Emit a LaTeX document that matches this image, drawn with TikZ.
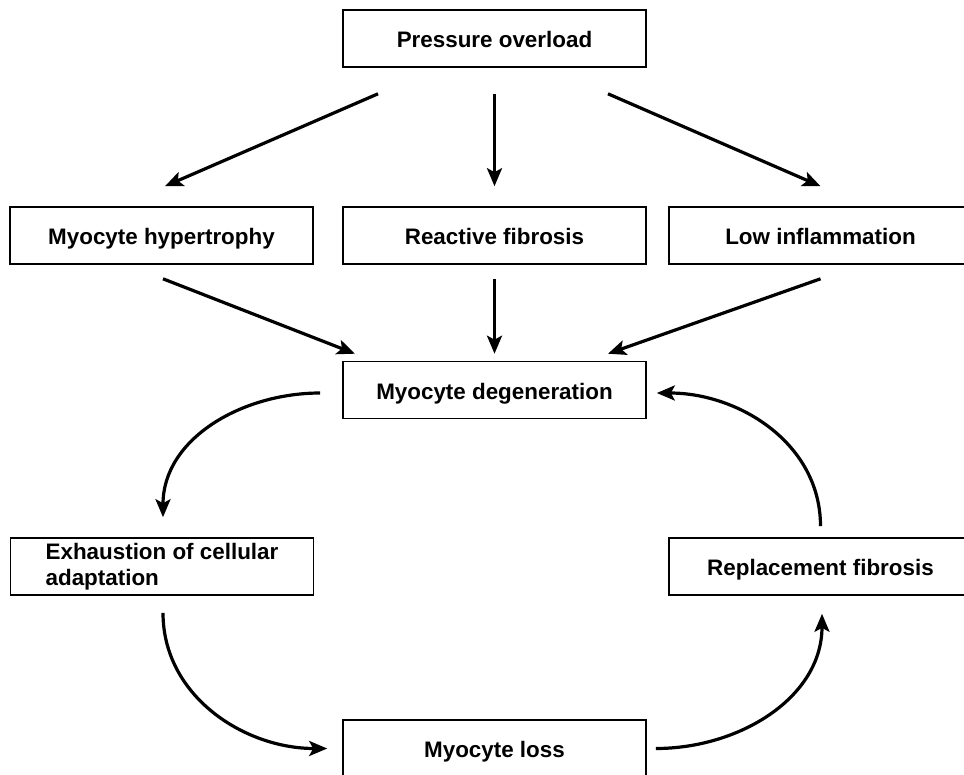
\documentclass[tikz,border=0pt]{standalone}
\usepackage{fontspec}
\setmainfont{Liberation Sans}
\usetikzlibrary{arrows.meta}
\begin{document}
\begin{tikzpicture}[x=1pt, y=-1pt, >={Stealth[length=18pt,width=15pt,inset=4pt]},
    box/.style={draw, line width=1.6pt, minimum width=303pt, minimum height=57pt, inner sep=0pt,
        text height=18pt, text depth=0pt, font=\fontsize{22.4}{26}\selectfont\bfseries},
    flow/.style={->, line width=3.2pt}]
    \useasboundingbox (0,0) rectangle (964,774);
    % boxes
    \node[box] (po) at (494.5,38.5) {Pressure overload};
    \node[box] (mh) at (161.5,235.5) {Myocyte hypertrophy};
    \node[box] (rf) at (494.5,235.5) {Reactive fibrosis};
    \node[box] (li) at (820.5,235.5) {Low inflammation};
    \node[box] (md) at (494.5,390) {Myocyte degeneration};
    \node[box, text height={}, text depth={}, align=left] (ex) at (162,566.5) {Exhaustion of cellular\\adaptation};
    \node[box] (rp) at (820.5,566.5) {Replacement fibrosis};
    \node[box] (ml) at (494.5,748.5) {Myocyte loss};
    % straight arrows
    \draw[flow] ([xshift=-116.5pt,yshift=-26pt]po.south) -- ([xshift=3.5pt,yshift=20pt]mh.north);
    \draw[flow] ([yshift=-26pt]po.south) -- ([yshift=20pt]rf.north);
    \draw[flow] ([xshift=113.5pt,yshift=-26pt]po.south) -- ([yshift=20pt]li.north);
    \draw[flow] ([xshift=1.5pt,yshift=-14pt]mh.south) -- ([xshift=-139.5pt,yshift=7pt]md.north);
    \draw[flow] ([yshift=-14pt]rf.south) -- ([yshift=7pt]md.north);
    \draw[flow] ([yshift=-14pt]li.south) -- ([xshift=113.5pt,yshift=7pt]md.north);
    % cycle
    \draw[flow] ([xshift=-22pt,yshift=-3pt]md.west) to[out=180,in=90] ([xshift=1pt,yshift=20pt]ex.north);
    \draw[flow] ([xshift=1pt,yshift=-17pt]ex.south) to[out=-90,in=180] ([xshift=-15pt]ml.west);
    \draw[flow] ([xshift=9pt]ml.east) to[out=0,in=-90] ([xshift=1.5pt,yshift=-18pt]rp.south);
    \draw[flow] ([yshift=11pt]rp.north) to[out=90,in=0] ([xshift=10pt,yshift=-3pt]md.east);
\end{tikzpicture}
\end{document}
